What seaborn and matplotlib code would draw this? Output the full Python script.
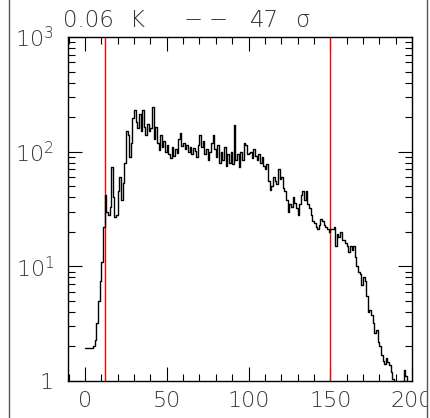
import numpy as np
import pandas as pd
import matplotlib
matplotlib.use("Agg")
import matplotlib.pyplot as plt
import seaborn as sns
from matplotlib.lines import Line2D
from matplotlib.patches import Rectangle
from matplotlib.ticker import FixedLocator, FixedFormatter, MultipleLocator, NullFormatter

# ---- data ----
bin_left = list(range(0, 200))
counts = [
    1.95, 1.95, 1.95, 1.95, 1.95, 2.0, 2.3, 3.2, 5.0, 7.5,          # 0-9
    11, 22, 42, 30, 28, 33, 74, 40, 27, 28,                          # 10-19
    45, 60, 38, 53, 80, 150, 140, 90, 120, 196,                      # 20-29
    230, 180, 160, 215, 150, 230, 165, 140, 175, 150,                # 30-39
    160, 246, 130, 165, 120, 103, 140, 110, 125, 100,                # 40-49
    115, 95, 88, 110, 92, 105, 98, 130, 145, 112,                    # 50-59
    120, 105, 115, 100, 110, 96, 108, 102, 90, 115,                  # 60-69
    139, 110, 125, 95, 105, 85, 100, 120, 139, 105,                  # 70-79
    90, 115, 80, 100, 85, 110, 75, 95, 80, 100,                      # 80-89
    78, 170, 85, 95, 74, 100, 85, 120, 115, 95,                      # 90-99
    97, 100, 88, 105, 92, 85, 95, 80, 90, 75,                        # 100-109
    70, 78, 55, 46, 50, 60, 56, 52, 70, 58,                          # 110-119
    60, 48, 45, 38, 30, 35, 33, 40, 36, 32,                          # 120-129
    28, 35, 42, 45, 38, 45, 35, 32, 28, 25,                          # 130-139
    24, 22, 21, 23, 26, 25, 23, 22, 21, 20,                          # 140-149
    21, 21, 22, 15, 19, 18, 20, 17, 17, 16,                          # 150-159
    15, 13.4, 15, 14, 15, 12, 10, 9, 8.5, 6.9,                       # 160-169
    8.1, 7.5, 5.5, 4.0, 4.2, 3.8, 3.2, 2.6, 2.8, 2.2,                # 170-179
    2.0, 1.7, 1.5, 1.4, 1.6, 1.45, 1.38, 1.2, 1.05, 0.8,             # 180-189
    0.8, 0.8, 0.8, 0.8, 0.8, 1.25, 1.1, 0.8, 0.8, 0.8,               # 190-199
]
marker_lines = [12, 150]
y_ticks = [1, 10, 100, 1000]
y_tick_labels = ["1", "$10^{1}$", "$10^{2}$", "$10^{3}$"]
x_ticks = [0, 50, 100, 150, 200]
x_tick_labels = ["0", "50", "100", "150", "200"]
title_parts = ["0.06", "K", "−", "−", "47", "σ"]

df = pd.DataFrame({"x": bin_left + [200], "y": counts + [counts[-1]]})

# ---- figure ----
sns.set_style("ticks")
plt.rcParams["font.family"] = ["DejaVu Sans"]
plt.rcParams["mathtext.fontset"] = "custom"
plt.rcParams["mathtext.rm"] = "DejaVu Sans:weight=light"
plt.rcParams["mathtext.it"] = "DejaVu Sans:weight=light"
plt.rcParams["mathtext.default"] = "rm"

W, H = 430, 418
fig = plt.figure(figsize=(W / 100, H / 100), dpi=100)
ax = fig.add_axes([68 / W, 37 / H, 344 / W, 344 / H])

sns.lineplot(data=df, x="x", y="y", drawstyle="steps-post", estimator=None,
             color="black", linewidth=1.0, ax=ax)
for xv in marker_lines:
    ax.axvline(xv, color="red", linewidth=1.0, zorder=1)

ax.set_yscale("log")
ax.set_ylim(1, 1000)
ax.set_xlim(-10.4, 200)
ax.set_xlabel("")
ax.set_ylabel("")

ax.xaxis.set_major_locator(FixedLocator(x_ticks))
ax.xaxis.set_major_formatter(FixedFormatter(x_tick_labels))
ax.xaxis.set_minor_locator(MultipleLocator(10))
ax.yaxis.set_major_locator(FixedLocator(y_ticks))
ax.yaxis.set_major_formatter(FixedFormatter(y_tick_labels))
ax.yaxis.set_minor_locator(FixedLocator([m * 10 ** e for e in range(0, 3) for m in range(2, 10)]))
ax.yaxis.set_minor_formatter(NullFormatter())

for s in ax.spines.values():
    s.set_linewidth(1.0)
    s.set_color("black")

ax.tick_params(which="both", direction="in", top=True, right=True, width=0.8, color="black")
ax.tick_params(which="major", length=10)
ax.tick_params(which="minor", length=5)
ax.tick_params(axis="x", which="major", pad=7, labelsize=16, labelcolor="#333333")
ax.tick_params(axis="y", which="major", pad=10, labelsize=16, labelcolor="#333333")
for lab in ax.get_xticklabels() + ax.get_yticklabels():
    lab.set_fontweight("light")

# title pieces
xs_px = [63, 130, 184, 209, 250, 295]
for t, xp in zip(title_parts, xs_px):
    fig.text(xp / W, 1 - 27 / H, t, fontsize=16.5, color="#333333", va="baseline",
             ha="left", fontweight="light")

# frame lines and clipping at right edge
fig.patches.append(Rectangle((426.5 / W, 0), 1, 1, transform=fig.transFigure,
                             facecolor="white", edgecolor="none", zorder=20))
for xp in (8.5, 426.5):
    fig.lines.append(Line2D([xp / W, xp / W], [0, 1], transform=fig.transFigure,
                            color="#555555", linewidth=1.0, zorder=21))

fig.savefig("out.png", dpi=100)
